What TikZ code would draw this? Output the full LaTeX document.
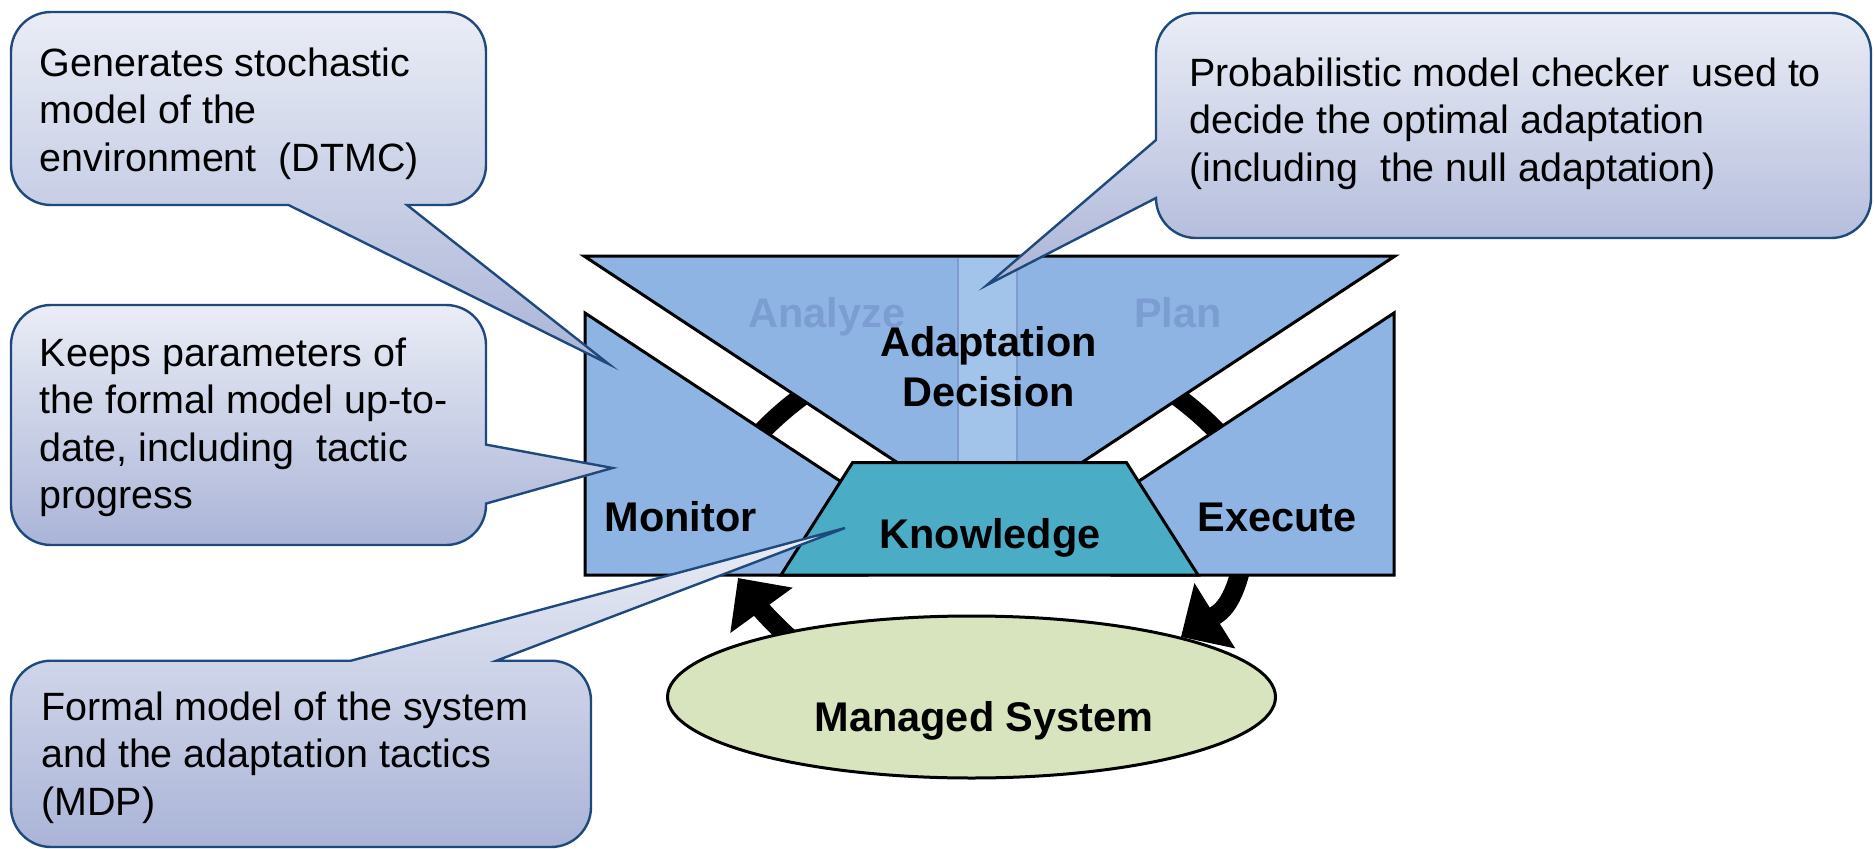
\documentclass[tikz,border=0pt]{standalone}
\usepackage{fontspec}
\setmainfont{Liberation Sans}
\usetikzlibrary{arrows.meta,shapes.geometric}
\pgfdeclarelayer{back}
\pgfsetlayers{back,main}
\definecolor{boxblue}{HTML}{8DB4E2}
\definecolor{knowteal}{HTML}{4BACC6}
\definecolor{sysgreen}{HTML}{D7E4BD}
\definecolor{stripblue}{HTML}{A2C4EA}
\definecolor{stripline}{HTML}{7E9CCD}
\definecolor{fadeblue}{HTML}{7C9DD2}
\definecolor{notetop}{HTML}{EAEDF6}
\definecolor{notebot}{HTML}{AAB4D7}
\definecolor{noteline}{HTML}{1F497D}

\begin{document}
\begin{tikzpicture}[x=0.75pt,y=0.75pt,yscale=-1,
  box/.style={draw=black,fill=boxblue,line width=2.25pt},
  note/.style={draw=noteline,line width=1.8pt,top color=notetop,bottom color=notebot},
  notetext/.style={anchor=north west,inner sep=0pt,align=left,font=\fontsize{29.6}{35.6}\selectfont},
  lbl/.style={anchor=base,inner sep=0pt,font=\fontsize{31.1}{37.5}\selectfont\bfseries},
  loopline/.style={line width=14.25pt,black},
  flow/.style={line width=14.25pt,black,-{Triangle[length=30pt,width=56pt]}}]

\useasboundingbox (0,0) rectangle (1875,849);

% analyze / plan and adaptation decision
\draw [box] (584,256) -- (1395,256) -- (1081.5,462.7) -- (897.5,462.7) -- cycle;
\fill [stripblue] (958,257.5) rectangle (1017,462);
\draw [stripline,line width=1.2pt] (958,257.5) -- (958,462.7) (1017,257.5) -- (1017,462.7);
\draw (827,327) node (analyze) [lbl,text=fadeblue] {Analyze};
\draw (1178,327) node (plan) [lbl,text=fadeblue] {Plan};

% monitor, execute, knowledge
\draw [box] (585,313) -- (867,498.8) -- (867,575) -- (585,575) -- cycle;
\draw [box] (1394,313) -- (1112,498.8) -- (1112,575) -- (1394,575) -- cycle;
\draw [line width=2.25pt,fill=knowteal] (852.5,462.7) -- (1126.5,462.7) -- (1198,575) -- (781,575) -- cycle;

\draw (971.5,697) node (sys) [ellipse,draw,line width=2.25pt,fill=sysgreen,minimum width=456pt,minimum height=121.5pt,inner sep=0pt] {};

\draw (988.5,356.7) node (adapt) [lbl] {Adaptation};
\draw (988.5,406.7) node (decision) [lbl] {Decision};
\draw (680.5,531.7) node (monitor) [lbl] {Monitor};
\draw (1277,531.7) node (execute) [lbl] {Execute};
\draw (990,548) node (knowledge) [lbl] {Knowledge};
\draw (984,731.7) node (systext) [lbl] {Managed System};

% loop behind the boxes
\coordinate (monin) at (738,578);
\coordinate (exeout) at (1243,560);
\begin{pgfonlayer}{back}
\draw [loopline] (733,465.7) arc [start angle=216,end angle=324,radius=317];
\draw [flow,shorten <=-8pt] (sys.161) to [out=222,in=54] (monin);
\draw [flow] (exeout) to [out=102,in=-32,looseness=1.2] (sys.16.5);
\end{pgfonlayer}

% callouts
\draw [note] (51,12) -- (446,12) arc [start angle=270,end angle=360,radius=40] -- (486,165) arc [start angle=0,end angle=90,radius=40] -- (407,205) -- (608.7,364) -- (288.5,205) -- (51,205) arc [start angle=90,end angle=180,radius=40] -- (11,52) arc [start angle=180,end angle=270,radius=40] -- cycle;
\draw [note] (51,305) -- (446,305) arc [start angle=270,end angle=360,radius=40] -- (486,444.6) -- (612.6,468) -- (486,503.6) -- (486,505) arc [start angle=0,end angle=90,radius=40] -- (51,545) arc [start angle=90,end angle=180,radius=40] -- (11,345) arc [start angle=180,end angle=270,radius=40] -- cycle;
\draw [note] (1196,13) -- (1831,13) arc [start angle=270,end angle=360,radius=40] -- (1871,198) arc [start angle=0,end angle=90,radius=40] -- (1196,238) arc [start angle=90,end angle=180,radius=40] -- (987,285) -- (1156,140) -- (1156,53) arc [start angle=180,end angle=270,radius=40] -- cycle;
\draw [note] (51,660.7) -- (351,660.7) -- (845,528) -- (496.4,660.7) -- (551,660.7) arc [start angle=270,end angle=360,radius=40] -- (591,807) arc [start angle=0,end angle=90,radius=40] -- (51,847) arc [start angle=90,end angle=180,radius=40] -- (11,700.7) arc [start angle=180,end angle=270,radius=40] -- cycle;

\draw (39.5,47.3) node (note1) [notetext] {Generates stochastic\\model of the\\environment~ (DTMC)};
\draw (39.5,337.6) node (note2) [notetext] {Keeps parameters of\\the formal model up-to-\\date, including~ tactic\\progress};
\draw (1189,57.6) node (note3) [notetext] {Probabilistic model checker~ used to\\decide the optimal adaptation\\(including~ the null adaptation)};
\draw (41,691.6) node (note4) [notetext] {Formal model of the system\\and the adaptation tactics\\(MDP)};
\end{tikzpicture}
\end{document}
